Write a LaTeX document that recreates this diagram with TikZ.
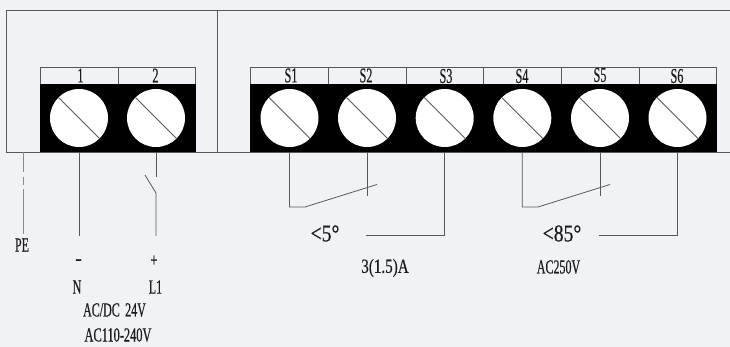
\documentclass[tikz,border=0pt]{standalone}
\usepackage{fontspec}
\setmainfont[FakeBold=0.5]{Liberation Serif}
\definecolor{bgc}{HTML}{F1F2F5}
\definecolor{linec}{HTML}{58585B}
\definecolor{txtc}{HTML}{1C1C1C}
\tikzset{
  wire/.style={draw=linec,line width=0.8pt},
  frameline/.style={draw=linec,line width=0.9pt},
  blackblock/.style={fill=black,draw=none,inner sep=0pt,minimum height=68pt,anchor=north west},
  labelstrip/.style={draw=linec,line width=0.8pt,fill=bgc,inner sep=0pt,minimum width=77.7pt,minimum height=17pt,anchor=north west},
  screw/.style={circle,fill=white,draw=none,inner sep=0pt,minimum size=58pt},
  slot/.style={draw=linec,line width=0.8pt},
  txtbase/.style={text=txtc,inner sep=0pt},
  tlabel/.style={txtbase,font=\fontsize{21}{23}\selectfont,xscale=.58},
  txt/.style={txtbase,font=\fontsize{20}{22}\selectfont,xscale=.6},
  bigtxt/.style={txtbase,font=\fontsize{24}{26}\selectfont,xscale=.82},
}
\begin{document}
\begin{tikzpicture}[x=1pt,y=-1pt]
\useasboundingbox (0,0) rectangle (730,347);
\fill[bgc] (0,0) rectangle (730,347);
% frame
\coordinate (ftl) at (6,10);
\coordinate (ftr) at (730,10);
\coordinate (fbl) at (6,152);
\coordinate (fbr) at (730,152);
\coordinate (dt) at (217,10);
\coordinate (db) at (217,152);
\draw[frameline] (fbl) -- (ftl) -- (ftr);
\draw[frameline] (fbl) -- (fbr);
\draw[frameline] (dt) -- (db);
% label strips
\foreach \n/\x in {c1/40,c2/117.7}{\node[labelstrip] (\n) at (\x,67) {};}
\foreach \n/\x in {c3/250.2,c4/327.9,c5/405.6,c6/483.3,c7/561,c8/638.7}{\node[labelstrip] (\n) at (\x,67) {};}
% black blocks
\node[blackblock,minimum width=155.4pt] (bA) at (40,84) {};
\node[blackblock,minimum width=466.2pt] (bB) at (250.2,84) {};
% screws
\foreach \n/\x in {t1/79,t2/156,s1/289.5,s2/367,s3/444.7,s4/522.3,s5/600,s6/677.5}{
  \node[screw] (\n) at (\x,118) {};
  \draw[slot] (\n.135) -- (\n.-45);
}
% terminal labels
\node[tlabel] (l1) at (80.5,75.5) {1};
\node[tlabel] (l2) at (155.5,75.5) {2};
\node[tlabel] (ls1) at (291,75.5) {S1};
\node[tlabel] (ls2) at (366,75.5) {S2};
\node[tlabel] (ls3) at (446,76) {S3};
\node[tlabel] (ls4) at (522,76) {S4};
\node[tlabel] (ls5) at (600,75) {S5};
\node[tlabel] (ls6) at (677,76) {S6};
% power wires
\coordinate (pe0) at (23,152);
\coordinate (pe1) at (23,172);
\coordinate (pe2) at (23,177);
\coordinate (pe3) at (23,185);
\coordinate (pe4) at (23,189);
\coordinate (pe5) at (23,234);
\draw[wire,draw=linec!70] (pe0) -- (pe1) (pe2) -- (pe3) (pe4) -- (pe5);
\coordinate (nend) at (79,236);
\draw[wire] (t1 |- bA.south) -- (nend);
\coordinate (lopen) at (156,177);
\coordinate (lpiv) at (156,193);
\coordinate (lsw) at (145,175);
\coordinate (lend) at (156,236);
\draw[wire] (t2 |- bA.south) -- (lopen);
\draw[wire] (lsw) -- (lpiv) -- (lend);
% switch 1
\coordinate (a1) at (289.5,207);
\coordinate (a2) at (305,207);
\coordinate (a3) at (377,184.5);
\coordinate (a4) at (367,196);
\coordinate (a5) at (444.7,235);
\coordinate (a6) at (366,235);
\draw[wire] (s1 |- bB.south) -- (a1) -- (a2) -- (a3);
\draw[wire] (s2 |- bB.south) -- (a4);
\draw[wire] (s3 |- bB.south) -- (a5) -- (a6);
% switch 2
\coordinate (b1) at (522.3,207);
\coordinate (b2) at (538,207);
\coordinate (b3) at (610,184.5);
\coordinate (b4) at (600,196);
\coordinate (b5) at (677.5,235);
\coordinate (b6) at (599,235);
\draw[wire] (s4 |- bB.south) -- (b1) -- (b2) -- (b3);
\draw[wire] (s5 |- bB.south) -- (b4);
\draw[wire] (s6 |- bB.south) -- (b5) -- (b6);
% texts
\node[txt] (pe) at (22,245) {PE};
\node[txt,xscale=1.6] (minus) at (78.5,262) {-};
\node[txt] (plus) at (154,261) {+};
\node[txt] (nn) at (77,287) {N};
\node[txt] (ll) at (155.5,287) {L1};
\node[txt] (acdc) at (114.5,310) {AC/DC\hspace{.45em}24V};
\node[txt,xscale=1.03] (acr) at (118,335) {AC110-240V};
\node[bigtxt] (ang1) at (325,233.5) {<5°};
\node[bigtxt] (ang2) at (562,233.5) {<85°};
\node[txt,xscale=1.26] (amp) at (385,268) {3(1.5)A};
\node[txt] (acv) at (558.5,267) {AC250V};
\end{tikzpicture}
\end{document}
